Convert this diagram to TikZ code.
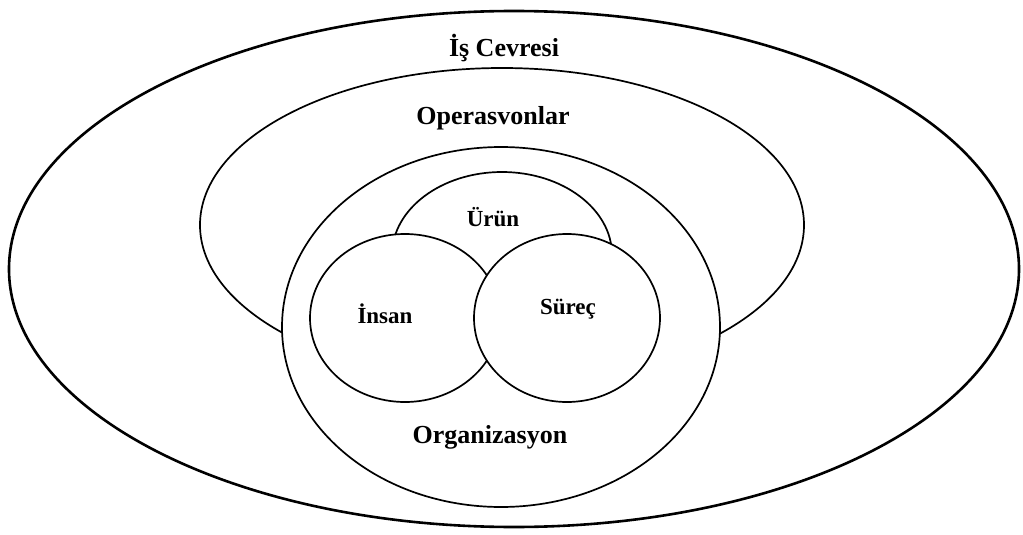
\documentclass[tikz,border=0pt]{standalone}
\usepackage{fontspec}
\setmainfont{Liberation Serif}
\usetikzlibrary{shapes.geometric}
\begin{document}
\begin{tikzpicture}[x=1pt,y=-1pt,
  region/.style={ellipse,draw=black,fill=white,line width=1.7pt,inner sep=0pt},
  bigtxt/.style={anchor=base,inner sep=0pt,font=\fontsize{26}{26}\selectfont\bfseries},
  smalltxt/.style={anchor=base,inner sep=0pt,font=\fontsize{23}{23}\selectfont\bfseries}]
  \useasboundingbox (0,0) rectangle (1023,535);
  % nested areas, outermost first so inner shapes cover what lies behind them
  \node[region,line width=2.6pt,minimum width=1010pt,minimum height=516pt] (env) at (514,269) {};
  \node[region,minimum width=604pt,minimum height=314pt] (ops) at (502,225) {};
  \node[region,minimum width=438pt,minimum height=360pt] (org) at (501,327) {};
  \node[region,minimum width=220pt,minimum height=166pt] (prod) at (502,255) {};
  \node[region,minimum width=190pt,minimum height=168pt] (people) at (405,318) {};
  \node[region,minimum width=186pt,minimum height=168pt] (proc) at (567,318) {};
  % labels
  \node[bigtxt] (envlbl) at (504,57) {İş Cevresi};
  \node[bigtxt] (opslbl) at (493,124) {Operasvonlar};
  \node[bigtxt] (orglbl) at (490,443) {Organizasyon};
  \node[smalltxt] (prodlbl) at (493,226) {Ürün};
  \node[smalltxt] (peoplelbl) at (385,323) {İnsan};
  \node[smalltxt] (proclbl) at (568,314) {Süreç};
\end{tikzpicture}
\end{document}
